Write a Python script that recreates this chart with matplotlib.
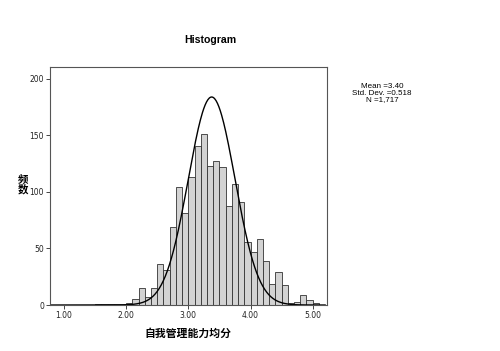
import numpy as np
import matplotlib.pyplot as plt

# bin left edges (width 0.1) and frequencies
bin_starts = [1.5, 1.6, 1.7, 1.8, 1.9, 2.0, 2.1, 2.2, 2.3, 2.4, 2.5, 2.6, 2.7, 2.8, 2.9,
              3.0, 3.1, 3.2, 3.3, 3.4, 3.5, 3.6, 3.7, 3.8, 3.9, 4.0, 4.1, 4.2, 4.3, 4.4,
              4.5, 4.6, 4.7, 4.8, 4.9, 5.0]
counts = [1, 1, 1, 1, 1, 2, 5, 15, 7, 15, 36, 31, 69, 104, 81,
          113, 141, 151, 123, 127, 122, 88, 107, 91, 56, 47, 58, 39, 19, 29,
          18, 2, 3, 9, 4, 2]
bin_width = 0.1

# normal curve as drawn
curve_mean = 3.375
curve_sd = 0.375
curve_peak = 184

stats_text = "Mean =3.40\nStd. Dev. =0.518\nN =1,717"
xticks = [1.0, 2.0, 3.0, 4.0, 5.0]
yticks = [0, 50, 100, 150, 200]

fig = plt.figure(figsize=(5.0, 3.51), dpi=100)
ax = fig.add_axes([0.099, 0.131, 0.555, 0.678])

ax.bar(bin_starts, counts, width=bin_width, align='edge',
       color='#d3d3d3', edgecolor='#333333', linewidth=0.6)

xs = np.linspace(0.8, 5.2, 400)
ys = curve_peak * np.exp(-0.5 * ((xs - curve_mean) / curve_sd) ** 2)
ax.plot(xs, ys, color='black', linewidth=1.0)

ax.set_xlim(0.767, 5.23)
ax.set_ylim(0, 210.5)
ax.set_xticks(xticks)
ax.set_xticklabels(["%.2f" % v for v in xticks])
ax.set_yticks(yticks)
ax.tick_params(labelsize=5.5, length=3, width=0.7, color='#444444', pad=1,
               labelcolor='#222222')
for s in ax.spines.values():
    s.set_color('#555555')
    s.set_linewidth(0.8)

ax.set_xlabel("自我管理能力均分", family=['Noto Sans CJK SC', 'DejaVu Sans'],
              fontsize=7.8, fontweight='bold', labelpad=6)
fig.text(0.046, 0.474, "频\n数", family=['Noto Sans CJK SC', 'DejaVu Sans'],
         fontsize=7.5, fontweight='bold', ha='center', va='center', linespacing=1.0)

fig.text(0.42, 0.885, "Histogram", family='Liberation Sans', fontsize=7.6,
         fontweight='bold', ha='center', va='center')
fig.text(0.764, 0.735, stats_text, family='Liberation Sans', fontsize=5.8,
         ha='center', va='center', linespacing=0.95)

fig.savefig("out.png", dpi=100)
